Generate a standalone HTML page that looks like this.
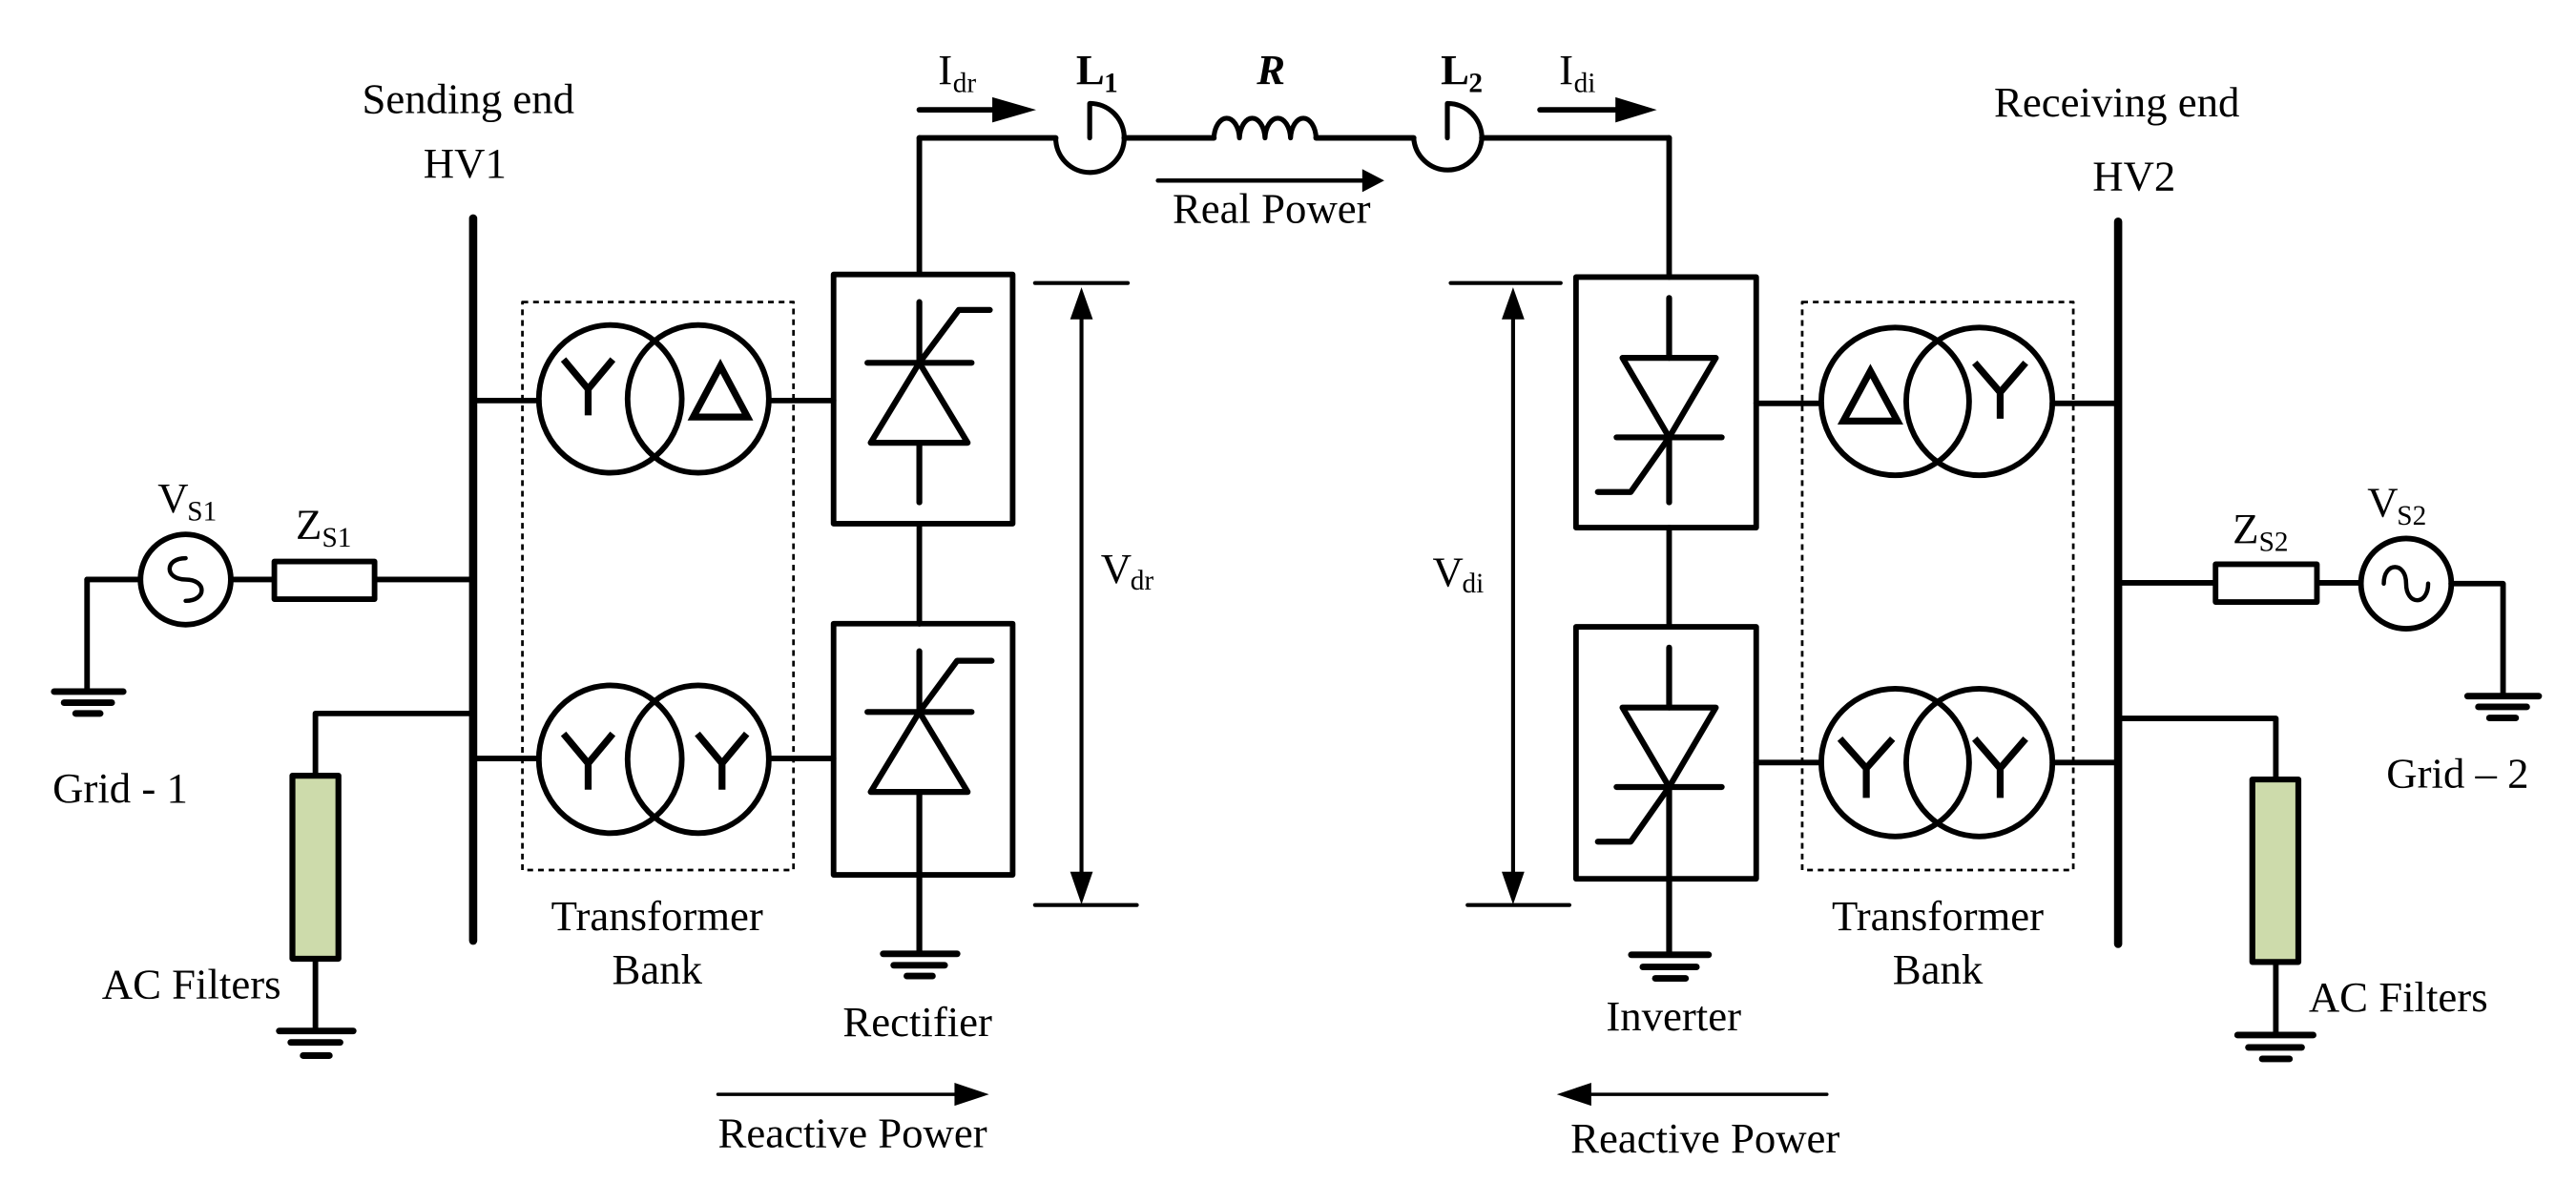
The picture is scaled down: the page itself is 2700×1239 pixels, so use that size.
<!DOCTYPE html>
<html><head><meta charset="utf-8"><style>
html,body{margin:0;padding:0;background:#fff;}
svg{display:block;}
text{font-family:"Liberation Serif","Times New Roman",serif;fill:#000;}
</style></head><body>
<svg width="2700" height="1239" viewBox="0 0 1568 720" preserveAspectRatio="none" xmlns="http://www.w3.org/2000/svg">
<g fill="none" stroke="#000" stroke-width="3.4" stroke-linecap="round" stroke-linejoin="round">
<line x1="288" y1="133" x2="288" y2="573" stroke-width="5"/>
<line x1="1289.3" y1="135" x2="1289.3" y2="575" stroke-width="5"/>
<rect x="318" y="184" width="165" height="346" stroke-width="1.6" stroke-dasharray="3.5 3" stroke-linecap="butt"/>
<rect x="1097" y="184" width="165" height="346" stroke-width="1.6" stroke-dasharray="3.5 3" stroke-linecap="butt"/>

<line x1="53" y1="353" x2="85" y2="353"/>
<line x1="141" y1="353" x2="167" y2="353"/>
<line x1="228" y1="353" x2="288" y2="353"/>
<rect x="167" y="342" width="61" height="23" fill="#fff"/>
<circle cx="113" cy="353" r="27.5"/>
<path d="M113 340 C 100 340,100 353,113 353 C 126 353,126 366,113 366" stroke-width="2.6"/>
<line x1="53" y1="353" x2="53" y2="421"/>
<line x1="33" y1="421.3" x2="75" y2="421.3" stroke-width="4"/>
<line x1="39" y1="428" x2="68" y2="428" stroke-width="4"/>
<line x1="46" y1="434.6" x2="61" y2="434.6" stroke-width="4"/>
<polyline points="288,434.6 192,434.6 192,472.5"/>
<rect x="178" y="472.5" width="28" height="111.5" fill="#cddbab" stroke-width="3.6"/>
<line x1="192" y1="584" x2="192" y2="628"/>
<line x1="170" y1="628" x2="215" y2="628" stroke-width="4"/>
<line x1="177" y1="635" x2="207" y2="635" stroke-width="4"/>
<line x1="184.5" y1="643" x2="200.5" y2="643" stroke-width="4"/>

<line x1="288" y1="244" x2="328" y2="244"/>
<line x1="468" y1="244" x2="507.4" y2="244"/>
<ellipse cx="371.5" cy="243" rx="43.5" ry="45"/>
<ellipse cx="425" cy="243" rx="43" ry="45"/>
<line x1="288" y1="462" x2="328" y2="462"/>
<line x1="468" y1="462" x2="507.4" y2="462"/>
<ellipse cx="371.5" cy="462.5" rx="43.5" ry="45"/>
<ellipse cx="425" cy="462.5" rx="43" ry="45"/>
<g stroke-width="4.2" stroke-linecap="butt">
<path d="M343 219 L358 237 L373 219 M358 237 V253"/>
<path d="M438.5 223 L455 254 H422 Z" stroke-linejoin="miter"/>
<path d="M343 447 L358 465 L373 447 M358 465 V481"/>
<path d="M424.5 447 L439.5 465 L454.5 447 M439.5 465 V481"/>
</g>

<rect x="507.4" y="167.2" width="109" height="151.8"/>
<rect x="507.4" y="379.9" width="109" height="153"/>
<line x1="559.6" y1="167" x2="559.6" y2="84"/>
<line x1="559.6" y1="84" x2="642.6" y2="84"/>
<line x1="559.6" y1="319" x2="559.6" y2="380"/>
<g stroke-width="3.6">
<line x1="559.6" y1="184" x2="559.6" y2="221"/>
<line x1="528" y1="221" x2="591.4" y2="221"/>
<polygon points="559.6,221 530,269.7 589,269.7"/>
<line x1="559.6" y1="269.7" x2="559.6" y2="306"/>
<polyline points="559.6,221 583.6,188.8 602.5,188.8"/>
<line x1="559.6" y1="396.7" x2="559.6" y2="433.7"/>
<line x1="528" y1="433.7" x2="591.4" y2="433.7"/>
<polygon points="559.6,433.7 530,482.4 589,482.4"/>
<line x1="559.6" y1="482.4" x2="559.6" y2="581"/>
<polyline points="559.6,433.7 582.6,402.5 603.6,402.5"/>
</g>
<line x1="537.6" y1="581" x2="582.6" y2="581" stroke-width="4"/>
<line x1="544" y1="588" x2="575" y2="588" stroke-width="4"/>
<line x1="552" y1="594.5" x2="567.6" y2="594.5" stroke-width="4"/>

<line x1="630" y1="172.4" x2="686.5" y2="172.4" stroke-width="2.4"/>
<line x1="630" y1="551.3" x2="692" y2="551.3" stroke-width="2.4"/>
<line x1="658.3" y1="190" x2="658.3" y2="533" stroke-width="2.4"/>

<path d="M642.6 84 A20.8 21 0 0 0 684.3 84 A20.8 21 0 0 0 663.3 63 L663.3 84" stroke-width="3"/>
<line x1="684.3" y1="84" x2="738.9" y2="84"/>
<path d="M738.9 84 a7.8 13 0 0 1 15.55 0 a7.8 13 0 0 1 15.55 0 a7.8 13 0 0 1 15.55 0 a7.8 13 0 0 1 15.55 0" stroke-width="3"/>
<line x1="801.1" y1="84" x2="860.5" y2="84"/>
<path d="M860.5 84 A20.8 21 0 0 0 902 84 A20.8 21 0 0 0 881 63 L881 84" stroke-width="3"/>
<line x1="902" y1="84" x2="1016" y2="84"/>
<line x1="1016" y1="84" x2="1016" y2="168.8"/>

<rect x="959.3" y="168.8" width="109.7" height="152.6"/>
<rect x="959.3" y="381.8" width="109.7" height="153.5"/>
<line x1="1016" y1="321.4" x2="1016" y2="381.8"/>
<g stroke-width="3.6">
<line x1="1016" y1="181.5" x2="1016" y2="218"/>
<polygon points="987.6,218 1044.4,218 1016,266.4"/>
<line x1="984" y1="266.4" x2="1048" y2="266.4"/>
<line x1="1016" y1="266.4" x2="1016" y2="306"/>
<polyline points="1016,266.4 992.6,299.7 972.6,299.7"/>
<line x1="1016" y1="394.5" x2="1016" y2="431"/>
<polygon points="987.6,431 1044.4,431 1016,479.4"/>
<line x1="984" y1="479.4" x2="1048" y2="479.4"/>
<line x1="1016" y1="479.4" x2="1016" y2="581.6"/>
<polyline points="1016,479.4 992.6,512.7 972.6,512.7"/>
</g>
<line x1="993" y1="581.6" x2="1040" y2="581.6" stroke-width="4"/>
<line x1="1000" y1="589" x2="1032.6" y2="589" stroke-width="4"/>
<line x1="1007.6" y1="596" x2="1026" y2="596" stroke-width="4"/>

<line x1="883" y1="172.4" x2="950" y2="172.4" stroke-width="2.4"/>
<line x1="893.3" y1="551.3" x2="955.3" y2="551.3" stroke-width="2.4"/>
<line x1="921" y1="190" x2="921" y2="533" stroke-width="2.4"/>

<line x1="1069" y1="245.7" x2="1108.6" y2="245.7"/>
<line x1="1249.3" y1="245.7" x2="1289.3" y2="245.7"/>
<ellipse cx="1153.6" cy="244.5" rx="45" ry="45"/>
<ellipse cx="1204.8" cy="244.5" rx="44.5" ry="45"/>
<line x1="1069" y1="464.5" x2="1108.6" y2="464.5"/>
<line x1="1249.3" y1="464.5" x2="1289.3" y2="464.5"/>
<ellipse cx="1153.6" cy="464.5" rx="45" ry="45"/>
<ellipse cx="1204.8" cy="464.5" rx="44.5" ry="45"/>
<g stroke-width="4.2" stroke-linecap="butt">
<path d="M1138.5 226 L1155 256.5 H1122 Z" stroke-linejoin="miter"/>
<path d="M1202 221 L1217.5 239 L1233 221 M1217.5 239 V255"/>
<path d="M1120 450 L1136 468 L1152 450 M1136 468 V486"/>
<path d="M1202 450 L1217.5 468 L1233 450 M1217.5 468 V486"/>
</g>

<line x1="1289.3" y1="355" x2="1348.6" y2="355"/>
<line x1="1410.3" y1="355" x2="1437" y2="355"/>
<rect x="1348.6" y="343.7" width="61.7" height="23" fill="#fff"/>
<circle cx="1464.6" cy="355.5" r="27.5"/>
<path d="M1451 355.5 C 1451 342,1464.6 342,1464.6 355.5 C 1464.6 369,1478 369,1478 355.5" stroke-width="2.6"/>
<polyline points="1492,355.5 1523.6,355.5 1523.6,424"/>
<line x1="1502" y1="424" x2="1545.3" y2="424" stroke-width="4"/>
<line x1="1508.6" y1="430.6" x2="1538" y2="430.6" stroke-width="4"/>
<line x1="1515.3" y1="437.3" x2="1531.3" y2="437.3" stroke-width="4"/>
<polyline points="1289.3,437.6 1385.3,437.6 1385.3,474.8"/>
<rect x="1371" y="474.8" width="28" height="111.2" fill="#cddbab" stroke-width="3.6"/>
<line x1="1385.3" y1="586" x2="1385.3" y2="630.5"/>
<line x1="1362" y1="630.5" x2="1408" y2="630.5" stroke-width="4"/>
<line x1="1368.6" y1="638" x2="1401" y2="638" stroke-width="4"/>
<line x1="1377" y1="645" x2="1393.6" y2="645" stroke-width="4"/>

<line x1="559.6" y1="66.9" x2="606" y2="66.9" stroke-width="3.4"/>
<line x1="937.4" y1="66.9" x2="985" y2="66.9" stroke-width="3.4"/>
<line x1="704.8" y1="110" x2="830" y2="110" stroke-width="2.6"/>
<line x1="437" y1="666.6" x2="582" y2="666.6" stroke-width="2"/>
<line x1="968" y1="666.6" x2="1112" y2="666.6" stroke-width="2"/>
</g>
<g fill="#000">
<polygon points="658.3,175 651.4,194.5 665.2,194.5"/>
<polygon points="658.3,551 651.4,531 665.2,531"/>
<polygon points="921,175 914.1,194.5 927.9,194.5"/>
<polygon points="921,551 914.1,531 927.9,531"/>
<polygon points="630.7,66.9 604,59.2 604,74.6"/>
<polygon points="1008.5,66.9 983.3,59.2 983.3,74.6"/>
<polygon points="842.6,110 829.2,103 829.2,117"/>
<polygon points="602,666.6 581,659.6 581,673.6"/>
<polygon points="947.6,666.6 968.6,659.6 968.6,673.6"/>
</g>

<g font-size="26">
<text x="285" y="69" text-anchor="middle">Sending end</text>
<text x="283" y="108" text-anchor="middle">HV1</text>
<text x="1288.5" y="71" text-anchor="middle">Receiving end</text>
<text x="1299" y="116" text-anchor="middle">HV2</text>
<text x="32" y="488.6">Grid - 1</text>
<text x="62" y="608">AC Filters</text>
<text x="400" y="566.7" text-anchor="middle">Transformer</text>
<text x="400" y="599" text-anchor="middle">Bank</text>
<text x="1179.5" y="566.7" text-anchor="middle">Transformer</text>
<text x="1179.5" y="599" text-anchor="middle">Bank</text>
<text x="1452.6" y="479.6">Grid – 2</text>
<text x="1405.3" y="616">AC Filters</text>
<text x="513" y="631">Rectifier</text>
<text x="977.6" y="627.5">Inverter</text>
<text x="437" y="698.7">Reactive Power</text>
<text x="956" y="702">Reactive Power</text>
<text x="713.7" y="135.7">Real Power</text>
<text x="96" y="312">V</text><text x="114" y="317" font-size="17">S1</text>
<text x="180" y="328">Z</text><text x="196" y="333" font-size="17">S1</text>
<text x="1359" y="330.6">Z</text><text x="1375" y="335.6" font-size="17">S2</text>
<text x="1441" y="314.6">V</text><text x="1459" y="319.6" font-size="17">S2</text>
<text x="670" y="355">V</text><text x="688" y="359" font-size="17">dr</text>
<text x="872" y="357">V</text><text x="890" y="361" font-size="17">di</text>
<text x="571" y="51">I</text><text x="580" y="56" font-size="17">dr</text>
<text x="949" y="51">I</text><text x="958" y="56" font-size="17">di</text>
<text x="655" y="51" font-weight="bold">L</text><text x="672" y="56" font-size="17" font-weight="bold">1</text>
<text x="765" y="51" font-weight="bold" font-style="italic">R</text>
<text x="877" y="51" font-weight="bold">L</text><text x="894" y="56" font-size="17" font-weight="bold">2</text>
</g>
</svg>
</body></html>
